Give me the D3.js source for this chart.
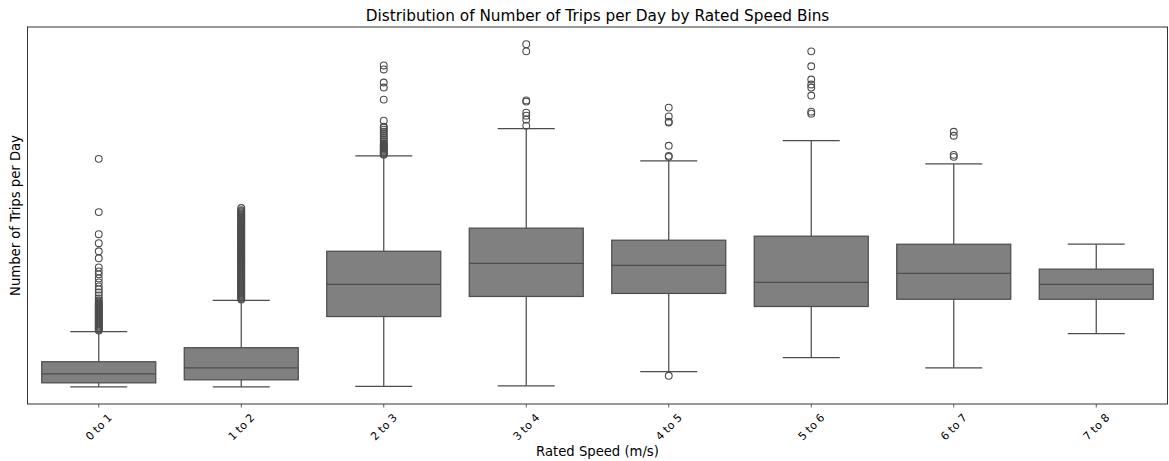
<!DOCTYPE html>
<html>
<head>
<meta charset="utf-8">
<script src="https://cdn.jsdelivr.net/npm/d3@7"></script>
<style>
  body { margin: 0; background: #fff; }
  svg { font-family: "DejaVu Sans", sans-serif; display: block; }
</style>
</head>
<body>
<div id="chart"></div>
<script>
// values (no y ticks in source, arbitrary units)
const categories = ["0 to 1", "1 to 2", "2 to 3", "3 to 4", "4 to 5", "5 to 6", "6 to 7", "7 to 8"];
const whiskerLow = [0, 0, 0.2, 0.5, 7.6, 14.6, 9.5, 26.5];
const q1Values = [2, 3.5, 35, 45, 46.5, 40, 43.6, 43.6];
const medianValues = [6.5, 9.5, 51, 61.5, 60.5, 52, 56.5, 51];
const q3Values = [12.5, 19.5, 67.5, 79, 73, 75, 71, 58.6];
const whiskerHigh = [27.5, 43, 115, 128.6, 112.5, 122.6, 111, 71];

const outliers0 = [28, 28.5, 29, 29.5, 30, 30.5, 31, 31.5, 32, 32.5, 33, 33.5, 34, 34.5, 35, 35.5, 36, 36.5, 37, 37.5,
  38, 38.5, 39, 39.5, 40, 40.5, 41, 41.5, 42, 43, 44, 45.5, 47, 48.5, 50, 52, 54, 56, 57.5, 59.5, 64, 67.5, 71.5, 76, 87, 113.5];
const outliers1 = [43.5, 44, 44.5, 45, 45.5, 46, 46.5, 47, 47.5, 48, 48.5, 49, 49.5, 50, 50.5, 51, 51.5, 52, 52.5, 53, 53.5,
  54, 54.5, 55, 55.5, 56, 56.5, 57, 57.5, 58, 58.5, 59, 59.5, 60, 60.5, 61, 61.5, 62, 62.5, 63, 63.5, 64, 64.5, 65, 65.5,
  66, 66.5, 67, 67.5, 68, 68.5, 69, 69.5, 70, 70.5, 71, 71.5, 72, 72.5, 73, 73.5, 74, 74.5, 75, 75.5, 76, 76.5, 77, 77.5,
  78, 78.5, 79, 79.5, 80, 80.5, 81, 81.5, 82, 82.5, 83, 83.5, 84, 84.5, 85, 85.5, 86, 86.5, 87, 87.5, 88, 89];
const outliers2 = [115.5, 116, 116.5, 117, 117.5, 118, 118.5, 119, 119.5, 120, 120.5, 121, 122, 123, 124, 125, 126, 127, 128, 129, 129.5,
  132.5, 143, 149, 151.5, 158, 160];
const outliers3 = [130, 133, 135, 136.5, 142, 142.6, 167, 170.6];
const outliers4 = [5.5, 114.5, 115, 120, 131.6, 132, 134.6, 139];
const outliers5 = [136, 137, 145, 149, 150.5, 153, 159.6, 167];
const outliers6 = [114.5, 115.5, 125, 127];
const outliers7 = [];
const outlierList = [outliers0, outliers1, outliers2, outliers3, outliers4, outliers5, outliers6, outliers7];

const iWidth = 1169, iHeight = 461;
const oPlot = { left: 27.5, right: 1167.5, top: 27, bottom: 404 };
const sLine = "#4d4d4d";
const sFill = "#808080";

const aBoxes = categories.map((c, i) => ({
  cat: c, lo: whiskerLow[i], q1: q1Values[i], med: medianValues[i], q3: q3Values[i], hi: whiskerHigh[i], out: outlierList[i]
}));

const svg = d3.select("#chart").append("svg").attr("width", iWidth).attr("height", iHeight);

// y extent with matplotlib style 5% margin
const aAll = aBoxes.flatMap(b => [b.lo, b.hi, ...b.out]);
const fMin = d3.min(aAll), fMax = d3.max(aAll);
const fPad = (fMax - fMin) * 0.05;
const y = d3.scaleLinear().domain([fMin - fPad, fMax + fPad]).range([oPlot.bottom, oPlot.top]);
const x = d3.scaleBand().domain(categories).range([oPlot.left, oPlot.right]).padding(0);
const iBoxW = x.bandwidth() * 0.8;

const g = svg.append("g");

aBoxes.forEach(b => {
  const cx = x(b.cat) + x.bandwidth() / 2;
  const gb = g.append("g");
  // whiskers
  gb.append("line").attr("x1", cx).attr("x2", cx).attr("y1", y(b.q1)).attr("y2", y(b.lo))
    .attr("stroke", sLine).attr("stroke-width", 1.25);
  gb.append("line").attr("x1", cx).attr("x2", cx).attr("y1", y(b.q3)).attr("y2", y(b.hi))
    .attr("stroke", sLine).attr("stroke-width", 1.25);
  [b.lo, b.hi].forEach(v => {
    gb.append("line").attr("x1", cx - iBoxW / 4).attr("x2", cx + iBoxW / 4).attr("y1", y(v)).attr("y2", y(v))
      .attr("stroke", sLine).attr("stroke-width", 1.25);
  });
  // box
  gb.append("rect").attr("x", cx - iBoxW / 2).attr("width", iBoxW)
    .attr("y", y(b.q3)).attr("height", y(b.q1) - y(b.q3))
    .attr("fill", sFill).attr("stroke", sLine).attr("stroke-width", 1.25);
  gb.append("line").attr("x1", cx - iBoxW / 2).attr("x2", cx + iBoxW / 2).attr("y1", y(b.med)).attr("y2", y(b.med))
    .attr("stroke", sLine).attr("stroke-width", 1.25);
  // fliers
  gb.selectAll("circle").data(b.out).enter().append("circle")
    .attr("cx", cx).attr("cy", v => y(v)).attr("r", 3.4)
    .attr("fill", "none").attr("stroke", sLine).attr("stroke-width", 1.1);
});

// frame
svg.append("rect").attr("x", oPlot.left).attr("y", oPlot.top)
  .attr("width", oPlot.right - oPlot.left).attr("height", oPlot.bottom - oPlot.top)
  .attr("fill", "none").attr("stroke", "#333").attr("stroke-width", 1);

// x axis ticks and rotated labels
const gx = svg.append("g").attr("transform", `translate(0,${oPlot.bottom})`)
  .call(d3.axisBottom(x).tickSize(3.5).tickPadding(3.5).tickFormat(""));
gx.select(".domain").remove();
gx.selectAll(".tick line").attr("stroke", "#333").attr("stroke-width", 0.8);

svg.append("g").selectAll("text").data(categories).enter().append("text")
  .attr("transform", c => `translate(${x(c) + x.bandwidth() / 2},${oPlot.bottom + 23}) rotate(-45)`)
  .attr("text-anchor", "middle").attr("dy", "0.35em")
  .attr("font-size", "11px").attr("fill", "#000").text(c => c);

// titles
svg.append("text").attr("x", (oPlot.left + oPlot.right) / 2).attr("y", 21)
  .attr("text-anchor", "middle").attr("font-size", "15.3px").text("Distribution of Number of Trips per Day by Rated Speed Bins");
svg.append("text").attr("x", (oPlot.left + oPlot.right) / 2).attr("y", 456)
  .attr("text-anchor", "middle").attr("font-size", "13.2px").text("Rated Speed (m/s)");
svg.append("text").attr("transform", `translate(20,${(oPlot.top + oPlot.bottom) / 2}) rotate(-90)`)
  .attr("text-anchor", "middle").attr("font-size", "13.2px").text("Number of Trips per Day");
</script>
</body>
</html>
